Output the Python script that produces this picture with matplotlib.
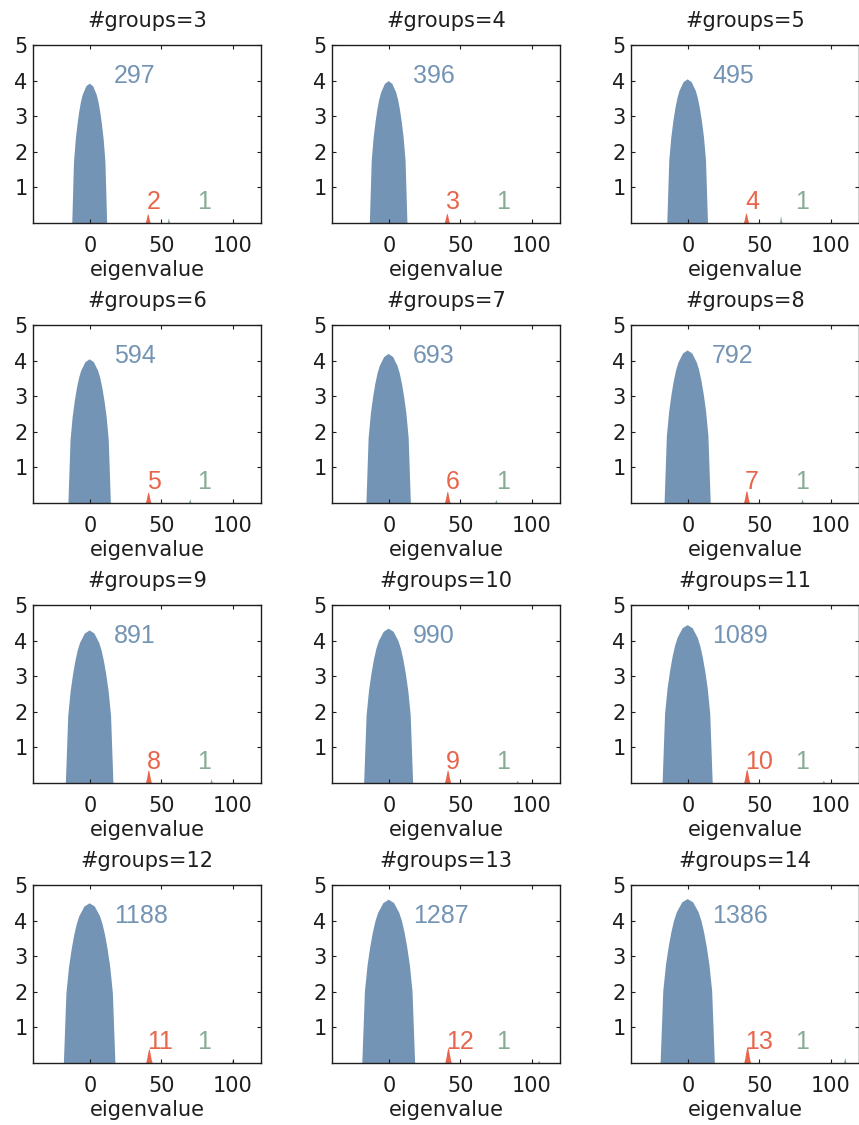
import numpy as np
import matplotlib.pyplot as plt

groups = [3, 4, 5, 6, 7, 8, 9, 10, 11, 12, 13, 14]
bulk_counts = [297, 396, 495, 594, 693, 792, 891, 990, 1089, 1188, 1287, 1386]
mid_counts = [2, 3, 4, 5, 6, 7, 8, 9, 10, 11, 12, 13]
top_counts = [1, 1, 1, 1, 1, 1, 1, 1, 1, 1, 1, 1]

# bulk of the spectrum: edges and peak height
bulk_left = [-12.8, -13.8, -14.9, -15.5, -16.2, -16.8, -17.3, -17.8, -18.2, -18.7, -19.1, -19.6]
bulk_right = [11.7, 12.6, 13.7, 14.3, 15.0, 15.6, 16.1, 16.6, 17.0, 17.5, 18.0, 18.5]
bulk_peak = [3.93, 4.0, 4.05, 4.05, 4.2, 4.3, 4.3, 4.35, 4.45, 4.5, 4.6, 4.62]

# outlier cluster near 40
mid_center = [40.5, 40.6, 40.7, 40.8, 40.9, 41.0, 41.0, 41.1, 41.2, 41.3, 41.4, 41.5]
mid_halfwidth = [1.9, 2.0, 2.0, 2.1, 2.1, 2.2, 2.2, 2.3, 2.3, 2.4, 2.4, 2.5]
mid_peak = [0.27, 0.28, 0.29, 0.32, 0.34, 0.36, 0.38, 0.38, 0.40, 0.41, 0.44, 0.47]

# single top eigenvalue
top_center = [55, 60, 65, 70, 75, 80, 85, 90, 95, 100, 105, 110]
top_peak = [0.14, 0.10, 0.20, 0.12, 0.10, 0.12, 0.12, 0.08, 0.08, 0.10, 0.08, 0.15]

# relative shapes, sampled evenly from left edge to right edge
bulk_shape = [0, .44, .6, .71, .8, .87, .92, .95, .98, .99, 1, .99, .98, .95, .92, .87, .8, .71, .6, .44, 0]
spike_shape = [0, .15, .35, .6, .85, 1, .85, .6, .35, .15, 0]

c_blue = '#7494b5'
c_red = '#e8654c'
c_green = '#86ad92'
c_text = '#1e1e1e'

W, H = 859, 1125
col_left = [33, 332, 631]
row_top = [45, 325, 605, 885]
ax_w, ax_h = 228, 178


def bump(ax, left, right, peak, shape, color):
    xs = np.linspace(left, right, len(shape))
    ys = peak * np.array(shape)
    ax.fill_between(xs, 0, ys, color=color, linewidth=0)


fig = plt.figure(figsize=(W / 100, H / 100), dpi=100)

for i, g in enumerate(groups):
    r, c = divmod(i, 3)
    ax = fig.add_axes([col_left[c] / W, 1 - (row_top[r] + ax_h) / H, ax_w / W, ax_h / H])

    bump(ax, bulk_left[i], bulk_right[i], bulk_peak[i], bulk_shape, c_blue)
    bump(ax, mid_center[i] - mid_halfwidth[i], mid_center[i] + mid_halfwidth[i],
         mid_peak[i], spike_shape, c_red)
    bump(ax, top_center[i] - 1.0, top_center[i] + 1.0, top_peak[i], spike_shape, c_green)

    ax.text(17, 3.93, str(bulk_counts[i]), color=c_blue, fontsize=18,
            family='Liberation Sans', ha='left', va='baseline')
    ax.text(40, 0.39, str(mid_counts[i]), color=c_red, fontsize=18,
            family='Liberation Sans', ha='left', va='baseline')
    ax.text(75, 0.39, str(top_counts[i]), color=c_green, fontsize=18,
            family='Liberation Sans', ha='left', va='baseline')

    ax.set_xlim(-40, 120)
    ax.set_ylim(0, 5)
    ax.set_xticks([0, 50, 100])
    ax.set_yticks([1, 2, 3, 4, 5])
    ax.tick_params(direction='in', top=True, right=True, length=3, width=0.8,
                   labelsize=15, colors=c_text)
    ax.tick_params(axis='x', pad=9)
    ax.tick_params(axis='y', pad=4)
    for s in ax.spines.values():
        s.set_linewidth(1.0)
        s.set_color(c_text)
    ax.set_xlabel('eigenvalue', fontsize=15, color=c_text, labelpad=3)
    ax.set_title('#groups=%d' % g, fontsize=15, color=c_text, pad=13)

plt.savefig('out.png', dpi=100)
